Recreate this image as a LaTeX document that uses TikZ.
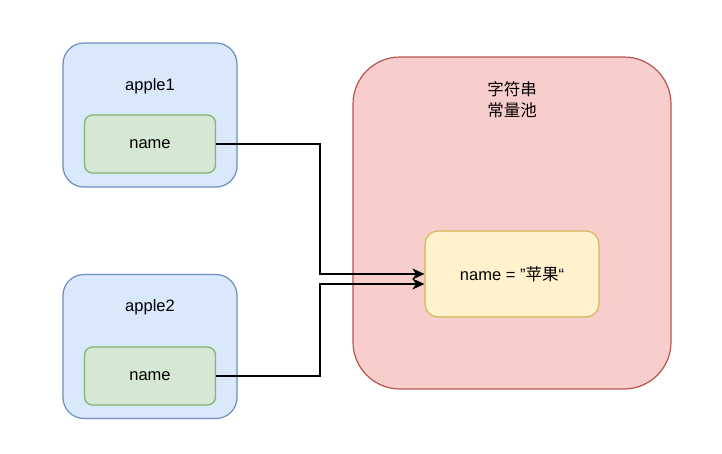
\documentclass[tikz,border=0pt]{standalone}
\usepackage{fontspec}
\setmainfont{Liberation Sans}
\newfontfamily\cjk{Noto Sans CJK SC}
\usepackage{tikz}
\usetikzlibrary{shapes,arrows.meta}
\definecolor{objfill}{HTML}{DAE8FC}
\definecolor{objline}{HTML}{6C8EBF}
\definecolor{fieldfill}{HTML}{D5E8D4}
\definecolor{fieldline}{HTML}{82B366}
\definecolor{poolfill}{HTML}{F8CECC}
\definecolor{poolline}{HTML}{B85450}
\definecolor{valfill}{HTML}{FFF2CC}
\definecolor{valline}{HTML}{D6B656}
\tikzstyle{objbox} = [draw=objline, fill=objfill, rounded corners=21pt, minimum width=174pt, minimum height=144pt, line width=1.2pt]
\tikzstyle{fieldbox} = [draw=fieldline, fill=fieldfill, rounded corners=8pt, minimum width=131pt, minimum height=58pt, line width=1.2pt]
\tikzstyle{line} = [draw, line width=1.3pt, -{Stealth[length=12pt,width=11pt,inset=3.5pt]}]
\begin{document}
\begin{tikzpicture}[x=1pt, y=-1pt, every node/.style={font=\fontsize{16.5pt}{21pt}\selectfont, inner sep=0pt}]
            \useasboundingbox (0,0) rectangle (722,453);
                % string pool
                \node [draw=poolline, fill=poolfill, rounded corners=47pt, minimum width=318pt, minimum height=332pt, line width=1.2pt] (pool) at (512,223) {};
                \node [align=center] (pooltext) at (512,100) {\cjk 字符串\\\cjk 常量池};
                \node [draw=valline, fill=valfill, rounded corners=13pt, minimum width=174pt, minimum height=86pt, line width=1.2pt] (val) at (512,274) {name = ”{\cjk 苹果}“};
                % objects
                \node [objbox] (apple1) at (150,115) {};
                \node (a1text) at (150,86) {apple1};
                \node [fieldbox] (name1) at (150,144) {name};
                \node [objbox] (apple2) at (150,346.5) {};
                \node (a2text) at (150,307) {apple2};
                \node [fieldbox] (name2) at (150,376) {name};
                % references
                \path [line] (name1.east) -- (320,144) |- (val.west);
                \path [line] (name2.east) -- (320,376) |- ([yshift=-10pt]val.west);
            \end{tikzpicture}
\end{document}
